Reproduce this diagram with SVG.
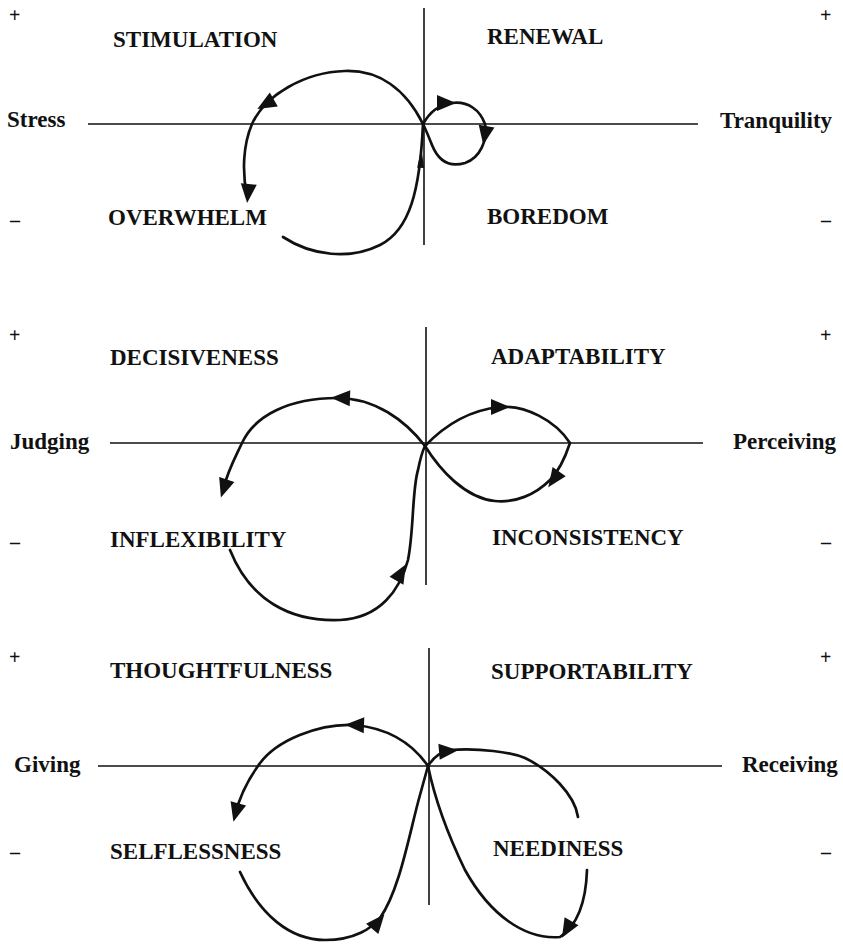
<svg xmlns="http://www.w3.org/2000/svg" xmlns:xlink="http://www.w3.org/1999/xlink" width="843" height="947" viewBox="0 0 843 947">
<style>
.lbl{font-family:"Liberation Serif","Times New Roman",serif;font-weight:bold;font-size:23px;fill:#111}
.sgn{font-family:"Liberation Serif","Times New Roman",serif;font-weight:bold;font-size:20px;fill:#111}
.axis{stroke:#111;stroke-width:1.6;fill:none}
.curve{stroke:#111;stroke-width:2.7;fill:none;stroke-linecap:round}
.ah{fill:#111}
</style>
<defs>
<path id="ah" d="M10,0 L-9,-8 L-9,8 Z"/>
<path id="ahs" d="M10,0 L-10,-3.5 L-10,3.5 Z"/>
</defs>
<rect width="843" height="947" fill="#fff"/>

<g id="axes">
<line class="axis" x1="88" y1="124" x2="698" y2="124"/>
<line class="axis" x1="424" y1="8" x2="424" y2="245"/>
<line class="axis" x1="110" y1="443" x2="703" y2="443"/>
<line class="axis" x1="426" y1="327" x2="426" y2="585"/>
<line class="axis" x1="98" y1="766" x2="722" y2="766"/>
<line class="axis" x1="429" y1="648" x2="429" y2="905"/>
</g>

<g id="connectors">
<!-- panel 1 -->
<path class="curve" d="M423,124 C405,88 378,70 345,71 C305,72 265,95 252,124 C243,145 242,172 247,196"/>
<path class="curve" d="M283,237 C312,256 350,260 380,245 C410,230 420,190 423,124"/>
<path class="curve" d="M423,124 C430,112 438,105 452,103 C468,101 480,110 485,124 C488,140 480,158 465,163 C448,168 438,160 432,145 C428,135 425,128 423,124"/>
<use href="#ah" class="ah" transform="translate(266,104) rotate(150)"/>
<use href="#ah" class="ah" transform="translate(248,193) rotate(95)"/>
<use href="#ahs" class="ah" transform="translate(421,158) rotate(-88)"/>
<use href="#ah" class="ah" transform="translate(446,103) rotate(0)"/>
<use href="#ah" class="ah" transform="translate(485,135) rotate(100)"/>
<!-- panel 2 -->
<path class="curve" d="M425,446 C405,420 375,398 337,398 C290,398 255,415 242,443 C235,458 228,470 223,490"/>
<path class="curve" d="M230,550 C250,600 290,622 340,620 C380,618 400,590 408,560 C414,530 412,490 418,470 C420,460 422,452 425,446"/>
<path class="curve" d="M425,446 C445,425 470,410 500,407 C525,405 555,420 570,443 C566,455 560,470 550,480 C535,495 515,503 495,501 C465,498 440,470 425,446"/>
<use href="#ah" class="ah" transform="translate(341,398) rotate(182)"/>
<use href="#ah" class="ah" transform="translate(224,488) rotate(108)"/>
<use href="#ah" class="ah" transform="translate(401,573) rotate(-60)"/>
<use href="#ah" class="ah" transform="translate(500,407) rotate(0)"/>
<use href="#ah" class="ah" transform="translate(554,479) rotate(125)"/>
<!-- panel 3 -->
<path class="curve" d="M428,766 C410,740 385,728 355,725 C320,723 275,740 258,766 C248,780 240,795 235,815"/>
<path class="curve" d="M240,872 C260,915 290,940 325,940 C355,940 372,928 380,918 C400,890 410,830 420,795 L428,766"/>
<path class="curve" d="M428,766 C435,755 442,752 450,750 C480,748 510,752 525,758 C550,770 575,795 578,817"/>
<path class="curve" d="M587,870 C586,900 578,925 560,937 C525,940 490,915 465,870 C448,835 435,800 428,766"/>
<use href="#ah" class="ah" transform="translate(355,725) rotate(182)"/>
<use href="#ah" class="ah" transform="translate(236,812) rotate(105)"/>
<use href="#ah" class="ah" transform="translate(378,922) rotate(-50)"/>
<use href="#ah" class="ah" transform="translate(448,751) rotate(-5)"/>
<use href="#ah" class="ah" transform="translate(567,929) rotate(120)"/>
</g>

<g id="panel1-labels">
<g id="p1-plus-l"><text class="sgn" x="9" y="22">+</text></g>
<g id="p1-plus-r"><text class="sgn" x="820" y="22">+</text></g>
<g id="stimulation"><text class="lbl" x="113" y="47">STIMULATION</text></g>
<g id="renewal"><text class="lbl" x="487" y="44">RENEWAL</text></g>
<g id="stress"><text class="lbl" x="7" y="127">Stress</text></g>
<g id="tranquility"><text class="lbl" x="720" y="128">Tranquility</text></g>
<g id="p1-minus-l"><text class="sgn" x="10" y="227">–</text></g>
<g id="p1-minus-r"><text class="sgn" x="821" y="227">–</text></g>
<g id="overwhelm"><text class="lbl" x="108" y="225">OVERWHELM</text></g>
<g id="boredom"><text class="lbl" x="487" y="224">BOREDOM</text></g>
</g>

<g id="panel2-labels">
<g id="p2-plus-l"><text class="sgn" x="9" y="342">+</text></g>
<g id="p2-plus-r"><text class="sgn" x="820" y="342">+</text></g>
<g id="decisiveness"><text class="lbl" x="110" y="365">DECISIVENESS</text></g>
<g id="adaptability"><text class="lbl" x="491" y="364">ADAPTABILITY</text></g>
<g id="judging"><text class="lbl" x="10" y="449">Judging</text></g>
<g id="perceiving"><text class="lbl" x="733" y="449">Perceiving</text></g>
<g id="p2-minus-l"><text class="sgn" x="10" y="549">–</text></g>
<g id="p2-minus-r"><text class="sgn" x="821" y="549">–</text></g>
<g id="inflexibility"><text class="lbl" x="110" y="547">INFLEXIBILITY</text></g>
<g id="inconsistency"><text class="lbl" x="492" y="545">INCONSISTENCY</text></g>
</g>

<g id="panel3-labels">
<g id="p3-plus-l"><text class="sgn" x="9" y="664">+</text></g>
<g id="p3-plus-r"><text class="sgn" x="820" y="664">+</text></g>
<g id="thoughtfulness"><text class="lbl" x="110" y="678">THOUGHTFULNESS</text></g>
<g id="supportability"><text class="lbl" x="491" y="679">SUPPORTABILITY</text></g>
<g id="giving"><text class="lbl" x="14" y="772">Giving</text></g>
<g id="receiving"><text class="lbl" x="742" y="772">Receiving</text></g>
<g id="p3-minus-l"><text class="sgn" x="10" y="859">–</text></g>
<g id="p3-minus-r"><text class="sgn" x="821" y="859">–</text></g>
<g id="selflessness"><text class="lbl" x="110" y="859">SELFLESSNESS</text></g>
<g id="neediness"><text class="lbl" x="493" y="856">NEEDINESS</text></g>
</g>
</svg>
